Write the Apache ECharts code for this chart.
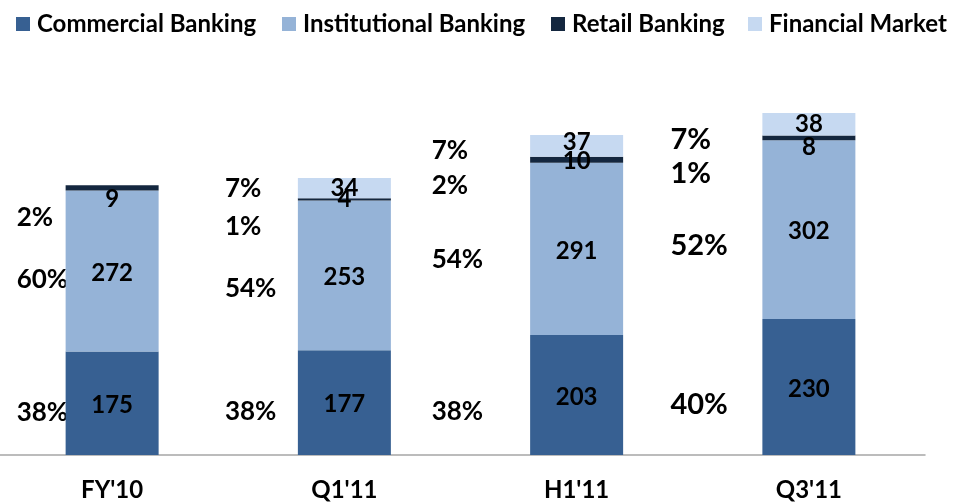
<!DOCTYPE html>
<html>
<head>
<meta charset="utf-8">
<script src="https://cdn.jsdelivr.net/npm/echarts@6/dist/echarts.min.js"></script>
<style>
  html, body { margin: 0; padding: 0; background: #fff; overflow: hidden; }
  #chart { width: 957px; height: 502px; margin-left: -4px; }
</style>
</head>
<body>
<div id="chart"></div>
<script>
// data
const categories = ["FY'10", "Q1'11", "H1'11", "Q3'11"];
const commercial = [175, 177, 203, 230];
const institutional = [272, 253, 291, 302];
const retail = [9, 4, 10, 8];
const financial = [0, 34, 37, 38];

const pctCommercial = [38, 38, 38, 40];
const pctInstitutional = [60, 54, 54, 52];
const pctRetail = [2, 1, 2, 1];
const pctFinancial = [null, 7, 7, 7];

// layout tweaks (pixels) for the side percentage labels
const pctLeft = [-95.5, -119.5, -145, -138.5];
const pctSize = [26, 26, 26, 29];
const pctShift = {
  commercial: [9, 9, 17, 18],
  institutional: [9, 13, 11, 16],
  retail: [30, 27, 26, 36],
  financial: [0, 0, 5, 15]
};
const retailLabelShift = [11, 0, 2, 9];
const financialLabelShift = [0, 0, -4, 0];
const legendLeft = [15, 281, 550, 747];

const colors = ['#376092', '#95B3D7', '#14273F', '#C6D9F1'];
const font = 'Lato';

const seriesDefs = [
  {name: 'Commercial Banking', values: commercial, pct: pctCommercial, key: 'commercial'},
  {name: 'Institutional Banking', values: institutional, pct: pctInstitutional, key: 'institutional'},
  {name: 'Retail Banking', values: retail, pct: pctRetail, key: 'retail'},
  {name: 'Financial Market', values: financial, pct: pctFinancial, key: 'financial'}
];

let chart = echarts.init(document.getElementById('chart'));

let barSeries = seriesDefs.map((s, k) => ({
  name: s.name,
  type: 'bar',
  stack: 'total',
  barWidth: 93,
  itemStyle: {color: colors[k]},
  label: {
    show: true,
    position: 'inside',
    color: '#000',
    fontFamily: font,
    fontWeight: 'bold',
    fontSize: 24,
    formatter: p => p.value ? String(p.value) : ''
  },
  data: s.values.map((v, i) => {
    let dy = 2;
    if (s.key === 'retail') dy = retailLabelShift[i];
    if (s.key === 'financial') dy = financialLabelShift[i];
    return {value: v, label: {offset: [0, dy]}};
  })
}));

// percentage labels: anchored at the middle of each stacked segment, moved left of the bar
let pctData = [];
let pctMeta = [];
seriesDefs.forEach((s, k) => {
  s.values.forEach((v, i) => {
    if (s.pct[i] == null) return;
    let below = 0;
    for (let j = 0; j < k; j++) below += seriesDefs[j].values[i];
    pctData.push([i, below + v / 2]);
    pctMeta.push({text: s.pct[i] + '%', dx: pctLeft[i], dy: pctShift[s.key][i], size: pctSize[i]});
  });
});

let option = {
  animation: false,
  legend: seriesDefs.map((s, k) => ({
    top: 7,
    left: legendLeft[k],
    itemWidth: 14,
    itemHeight: 14,
    icon: 'rect',
    textStyle: {fontFamily: font, fontWeight: 'bold', fontSize: 24, color: '#000', padding: [0, 0, 0, 2]},
    data: [s.name]
  })),
  grid: {left: 0, right: 28, top: 100, bottom: 47, containLabel: false},
  xAxis: {
    type: 'category',
    data: categories,
    axisLine: {lineStyle: {color: '#A6A6A6', width: 1.5}},
    axisTick: {length: 8, lineStyle: {color: '#A6A6A6', width: 1.5}},
    axisLabel: {fontFamily: font, fontWeight: 'bold', fontSize: 24, color: '#000', margin: 23}
  },
  yAxis: {
    type: 'value',
    min: 0,
    max: 600,
    show: false,
    splitLine: {show: false}
  },
  series: barSeries.concat([{
    type: 'custom',
    silent: true,
    data: pctData,
    renderItem: (params, api) => {
      let pt = api.coord([api.value(0), api.value(1)]);
      let m = pctMeta[params.dataIndex];
      return {
        type: 'text',
        x: pt[0] + m.dx,
        y: pt[1] + m.dy,
        style: {
          text: m.text,
          font: 'bold ' + m.size + 'px ' + font,
          fill: '#000',
          align: 'left',
          verticalAlign: 'middle'
        }
      };
    }
  }])
};

chart.setOption(option);
</script>
</body>
</html>
